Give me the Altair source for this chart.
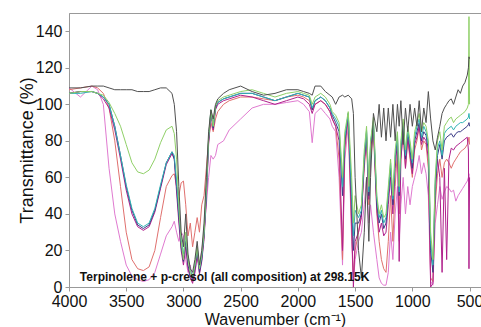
import altair as alt
import pandas as pd

# Wavenumber grid (cm-1), descending
wavenumber = [
    4000, 3900, 3800, 3750, 3700, 3650, 3600, 3550, 3500, 3450, 3400, 3350, 3300, 3250, 3200, 3150, 3100,
    3080, 3060, 3040, 3020, 3000, 2980, 2960, 2940, 2920, 2900, 2880, 2860, 2840, 2820, 2800, 2780, 2760, 2740, 2720,
    2700, 2650, 2600, 2500, 2400, 2300, 2200, 2100, 2000, 1950, 1900, 1875, 1850, 1800, 1760, 1720, 1700,
    1670, 1640, 1610, 1590, 1560, 1530, 1515, 1500, 1470, 1445, 1420, 1400, 1380, 1365, 1340, 1310, 1290, 1270, 1250, 1230, 1210,
    1190, 1170, 1150, 1130, 1115, 1100, 1080, 1060, 1040, 1020, 1000, 980, 960, 940, 920, 900, 880, 860, 840, 820, 800,
    780, 760, 740, 720, 700, 680, 660, 640, 620, 600, 580, 560, 540, 520, 510, 505, 500,
]

black = [
    109, 109, 110, 110, 110, 109, 108, 108, 108, 108, 107, 107, 107, 108, 109, 109, 106,
    100, 85, 55, 30, 22, 40, 18, 10, 8, 15, 25, 12, 20, 35, 60, 85, 97, 92, 100,
    103, 106, 108, 110, 107, 105, 106, 108, 108, 107, 106, 105, 110, 110, 107, 105, 104,
    100, 104, 105, 104, 105, 103, 95, 60, 20, 5, 30, 60, 25, 60, 95, 85, 100, 82, 98, 80, 98,
    82, 100, 80, 100, 88, 102, 78, 98, 85, 100, 88, 98, 88, 102, 85, 98, 90, 107, 92, 80, 75,
    82, 88, 95, 98, 100, 102, 103, 100, 104, 108, 106, 110, 112, 116, 120, 126, 125,
]
green = [
    106, 107, 107, 106, 105, 101, 95, 88, 78, 68, 63, 62, 64, 70, 79, 86, 88,
    84, 70, 45, 25, 15, 30, 15, 8, 5, 12, 22, 10, 18, 30, 55, 82, 97, 88, 99,
    102, 104, 105, 107, 108, 106, 104, 106, 107, 106, 105, 100, 104, 106, 104, 100, 96,
    94, 90, 60, 85, 96, 60, 35, 50, 40, 45, 75, 88, 55, 80, 93, 50, 40, 45, 38, 40, 55,
    70, 50, 75, 85, 55, 80, 92, 75, 88, 80, 70, 85, 90, 95, 85, 90, 88, 80, 30, 15, 60,
    80, 85, 75, 88, 90, 92, 93, 90, 92, 93, 94, 95, 96, 98, 100, 148, 100,
]
navy = [
    106, 107, 107, 106, 104, 100, 88, 72, 55, 42, 34, 32, 34, 42, 55, 68, 74,
    70, 55, 38, 22, 14, 25, 12, 6, 4, 10, 20, 8, 15, 28, 50, 80, 96, 87, 98,
    101, 103, 104, 106, 106, 104, 102, 104, 106, 105, 104, 97, 102, 104, 102, 98, 94,
    90, 85, 50, 80, 95, 45, 20, 35, 35, 40, 70, 85, 50, 78, 90, 45, 35, 40, 32, 35, 50,
    65, 45, 70, 82, 50, 75, 88, 70, 85, 75, 65, 80, 85, 90, 80, 85, 83, 75, 20, 8, 55,
    72, 78, 70, 80, 82, 83, 84, 82, 84, 85, 85, 86, 87, 88, 89, 90, 88,
]
cyan = [
    106, 106, 107, 106, 104, 100, 88, 72, 56, 43, 35, 33, 35, 43, 56, 68, 74,
    72, 58, 42, 26, 18, 28, 16, 9, 6, 12, 22, 10, 17, 30, 52, 82, 97, 88, 99,
    101, 103, 104, 106, 106, 104, 102, 104, 106, 105, 104, 98, 102, 104, 102, 98, 95,
    92, 88, 55, 82, 95, 50, 28, 42, 38, 42, 72, 86, 52, 79, 91, 48, 38, 42, 35, 38, 52,
    68, 48, 72, 84, 52, 78, 90, 72, 86, 78, 68, 82, 88, 92, 82, 88, 85, 78, 25, 12, 58,
    76, 80, 72, 84, 86, 87, 88, 86, 88, 89, 90, 90, 91, 92, 93, 95, 92,
]
salmon = [
    108, 109, 110, 109, 106, 98, 80, 55, 30, 15, 10, 9, 11, 20, 38, 55, 61,
    62, 55, 50, 57, 58, 45, 28, 35, 22, 30, 38, 30, 45, 50, 65, 80, 90, 85, 92,
    96, 100, 102, 104, 104, 103, 102, 104, 105, 104, 102, 97, 100, 102, 100, 96, 92,
    88, 70, 15, 75, 92, 30, 5, 20, 30, 40, 65, 80, 45, 70, 85, 40, 25, 15, 10, 8, 25,
    50, 25, 55, 75, 40, 70, 85, 65, 80, 70, 60, 75, 80, 88, 75, 80, 78, 65, 5, 3, 45,
    62, 70, 60, 68, 70, 68, 65, 68, 70, 72, 74, 75, 76, 78, 80, 82, 78,
]
pink = [
    109, 104, 110, 108, 100, 65, 40, 25, 12, 6, 4, 3, 4, 8, 18, 28, 33,
    36, 30, 25, 30, 28, 15, 8, 12, 3, 8, 15, 12, 20, 30, 45, 60, 72, 70, 72,
    78, 80, 86, 92, 98, 100, 100, 101, 102, 100, 96, 79, 95, 98, 95, 92, 88,
    85, 60, 12, 70, 88, 25, 3, 15, 25, 30, 45, 60, 35, 45, 30, 15, 5, 2, 1, 1, 8,
    30, 15, 40, 55, 25, 45, 60, 40, 55, 45, 55, 60, 65, 72, 62, 68, 62, 50, 3, 1, 35,
    45, 55, 48, 52, 55, 54, 52, 53, 47, 50, 52, 54, 56, 58, 60, 62, 55,
]
purple = [
    106, 107, 107, 106, 103, 98, 86, 70, 53, 40, 33, 31, 33, 41, 54, 67, 73,
    70, 52, 35, 20, 12, 22, 10, 5, 2, 8, 18, 7, 14, 26, 48, 78, 95, 86, 97,
    100, 102, 103, 105, 104, 102, 100, 102, 104, 103, 100, 95, 100, 102, 100, 96, 92,
    88, 80, 20, 78, 93, 35, 0, 25, 30, 38, 68, 82, 48, 75, 88, 42, 30, 35, 28, 30, 45,
    60, 40, 65, 80, 14, 70, 85, 65, 82, 72, 62, 78, 82, 88, 78, 82, 80, 70, 0, 2, 50,
    70, 60, 8, 65, 15, 70, 76, 75, 77, 78, 79, 80, 81, 82, 75, 10, 60,
]

series_names = ["pink", "salmon", "purple", "navy", "cyan", "green", "black"]
series_values = [pink, salmon, purple, navy, cyan, green, black]
series_colors = ["#e07ad0", "#e0706e", "#b0208c", "#3a3a86", "#30b4b4", "#90d068", "#505050"]

x_ticks = [4000, 3500, 3000, 2500, 2000, 1500, 1000, 500]
y_ticks = [0, 20, 40, 60, 80, 100, 120, 140]

rows = []
for name, vals in zip(series_names, series_values):
    for i, (w, t) in enumerate(zip(wavenumber, vals)):
        rows.append({"wn": w, "T": t, "series": name, "order": i})
df = pd.DataFrame(rows)

FONT = "Liberation Sans"

x_scale = alt.Scale(domain=[400, 4000], reverse=True, nice=False, zero=False)
y_scale = alt.Scale(domain=[0, 150], nice=False)

x_axis = alt.Axis(values=x_ticks, format="d", title="Wavenumber (cm⁻¹)",
                  titleFontSize=16, labelPadding=2, titlePadding=2)
y_axis = alt.Axis(values=y_ticks, format="d", title="Transmittance (%)",
                  titleFontSize=18, labelPadding=3, titlePadding=-1)

lines = alt.Chart(df).mark_line(strokeWidth=1, clip=True).encode(
    x=alt.X("wn:Q", scale=x_scale, axis=x_axis),
    y=alt.Y("T:Q", scale=y_scale, axis=y_axis),
    color=alt.Color("series:N", scale=alt.Scale(domain=series_names, range=series_colors), legend=None),
    detail="series:N",
    order="order:Q",
)

annot = alt.Chart(pd.DataFrame({"wn": [3905], "T": [3.5],
                                "label": ["Terpinolene + p-cresol (all composition) at 298.15K"]})).mark_text(
    align="left", baseline="alphabetic", fontSize=12, font=FONT, color="#111", fontWeight="bold"
).encode(
    x=alt.X("wn:Q", scale=x_scale, axis=x_axis),
    y=alt.Y("T:Q", scale=y_scale, axis=y_axis),
    text="label:N",
)

chart = alt.layer(lines, annot).properties(
    width=412, height=274,
    autosize=alt.AutoSizeParams(type="none"),
    padding={"left": 69, "top": 13, "right": 0, "bottom": 40},
    background="white",
).configure_view(stroke="#999", strokeWidth=1).configure_axis(
    grid=False, labelOverlap=False, labelBound=False, labelFlush=False,
    labelFontSize=16, labelFont=FONT, titleFont=FONT,
    labelColor="#111", titleColor="#111", titleFontWeight="normal",
    tickSize=4, tickColor="#999", domainColor="#999",
)

chart.save("out.html", embed_options={"renderer": "svg", "actions": False})
